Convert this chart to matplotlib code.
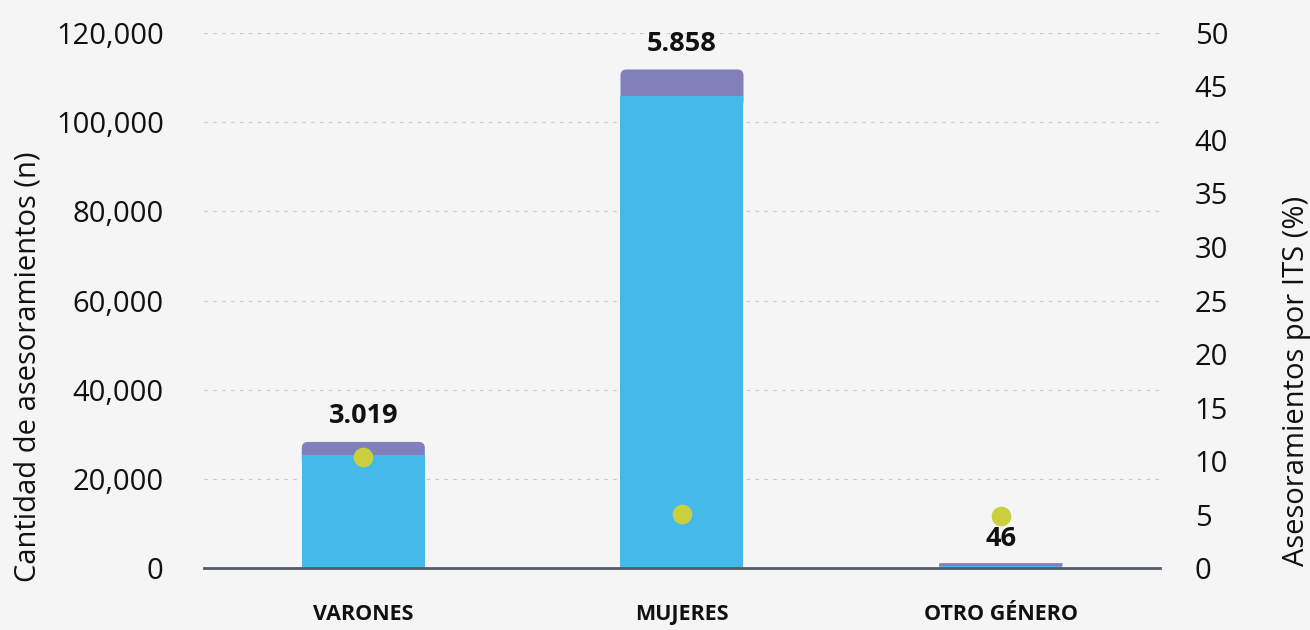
import matplotlib
matplotlib.use("Agg")
import matplotlib.pyplot as plt
from matplotlib.ticker import FuncFormatter, MultipleLocator
from matplotlib.patches import FancyBboxPatch

plt.rcParams['font.family'] = ['Open Sans', 'DejaVu Sans']

categories = ["VARONES", "MUJERES", "OTRO GÉNERO"]
no_its = [25300, 105900, 900]
its = [3019, 5858, 46]
its_labels = ["3.019", "5.858", "46"]
pct_its = [10.4, 5.1, 4.9]

bg = "#F5F5F5"
blue = "#45B9E9"
purple = "#8180BD"
dot = "#C9CF3F"

W, H = 1310, 630
fig = plt.figure(figsize=(W / 100, H / 100), dpi=100, facecolor=bg)
ax = fig.add_axes([0.1557, 0.0979, 0.7298, 0.8502], facecolor=bg)
ax2 = ax.twinx()

x = list(range(len(categories)))
w = 0.386
ymax = 120000
ax.set_xlim(-0.5, 2.5)
ax.set_ylim(0, ymax)

ax.bar(x, no_its, width=w, color=blue, zorder=4)
top_bars = ax.bar(x, its, bottom=no_its, width=w, color=purple, edgecolor=purple,
                  linewidth=[0, 0, 2.0], zorder=4.5)

# rounded top corners for the purple segments
ax_w_px = 0.7298 * W
ax_h_px = 0.8502 * H
xpp = 3.0 / ax_w_px
ypp = ymax / ax_h_px
r_px = 6
for rect in top_bars:
    bx, by = rect.get_x(), rect.get_y()
    bw, bh = rect.get_width(), rect.get_height()
    if bh / ypp > 2 * r_px:
        rect.set_visible(False)
        ext = 2 * r_px * ypp
        fp = FancyBboxPatch((bx, by - ext), bw, bh + ext,
                            boxstyle=f"round,pad=0,rounding_size={r_px * xpp}",
                            mutation_aspect=ypp / xpp,
                            facecolor=purple, edgecolor="none", zorder=3)
        ax.add_patch(fp)

for xi, b, t, lab in zip(x, no_its, its, its_labels):
    ax.annotate(lab, (xi, b + t), xytext=(0, 9), textcoords="offset points",
                ha="center", va="bottom", fontsize=19.5, fontweight="bold",
                color="#111111", zorder=5)

ax.yaxis.set_major_locator(MultipleLocator(20000))
ax.yaxis.set_major_formatter(FuncFormatter(lambda v, p: f"{int(v):,}"))
ax.grid(axis="y", linestyle=(0, (3, 5)), color="#C8C8C8", linewidth=0.8, zorder=0)
ax.set_xticks(x)
ax.set_xticklabels(categories, fontsize=15.5, fontweight="bold", color="#111111")
ax.tick_params(axis="x", length=0, pad=26)
ax.tick_params(axis="y", length=0, pad=29, labelsize=21, labelcolor="#111111")
for s in ["top", "right", "left"]:
    ax.spines[s].set_visible(False)
ax.spines["bottom"].set_color("#555A66")
ax.spines["bottom"].set_linewidth(2)
ax.spines["bottom"].set_zorder(6)
ax.set_ylabel("Cantidad de asesoramientos (n)", fontsize=21, color="#111111")
ax.yaxis.set_label_coords(-0.169, 0.377)

ax2.scatter(x, pct_its, s=200, color=dot, zorder=6, linewidths=0)
ax2.set_ylim(0, 50)
ax2.yaxis.set_major_locator(MultipleLocator(5))
ax2.tick_params(axis="y", length=0, pad=25, labelsize=21, labelcolor="#111111")
for s in ["top", "right", "left", "bottom"]:
    ax2.spines[s].set_visible(False)
ax2.set_ylabel("Asesoramientos por ITS (%)", fontsize=21, color="#111111")
ax2.yaxis.set_label_coords(1.128, 0.35)

ax.set_zorder(1)
ax2.set_zorder(2)
ax2.patch.set_visible(False)

fig.savefig("out.png", dpi=100, facecolor=bg)
